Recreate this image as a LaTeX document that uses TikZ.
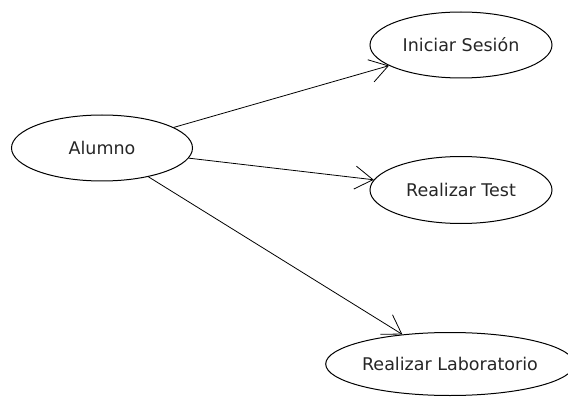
\documentclass[tikz,border=0pt]{standalone}
\usepackage{fontspec}
\setmainfont{DejaVu Sans}
\usetikzlibrary{shapes.geometric,arrows.meta}
\begin{document}
\begin{tikzpicture}[x=1pt,y=-1pt,
  usecase/.style={ellipse,draw=black,line width=1pt,inner sep=0pt,
    font=\fontsize{17.5}{20}\selectfont,text=black!85},
  assoc/.style={draw=black,line width=0.8pt,
    -{Straight Barb[length=18pt,width=23pt,line width=0.8pt]}}]
  \useasboundingbox (0,0) rectangle (568,401);
  % actor and use cases
  \node[usecase,minimum width=181pt,minimum height=66pt] (alumno) at (102,148) {Alumno};
  \node[usecase,minimum width=182pt,minimum height=66pt] (sesion) at (461,45) {Iniciar Sesión};
  \node[usecase,minimum width=182pt,minimum height=67pt] (test) at (461,190) {Realizar Test};
  \node[usecase,minimum width=213pt,minimum height=63pt] (lab) at (450,364) {Realizar Laboratorio};
  % associations
  \draw[assoc] (alumno) -- (sesion);
  \draw[assoc] (alumno) -- (test);
  \draw[assoc] (alumno) -- (lab);
\end{tikzpicture}
\end{document}
